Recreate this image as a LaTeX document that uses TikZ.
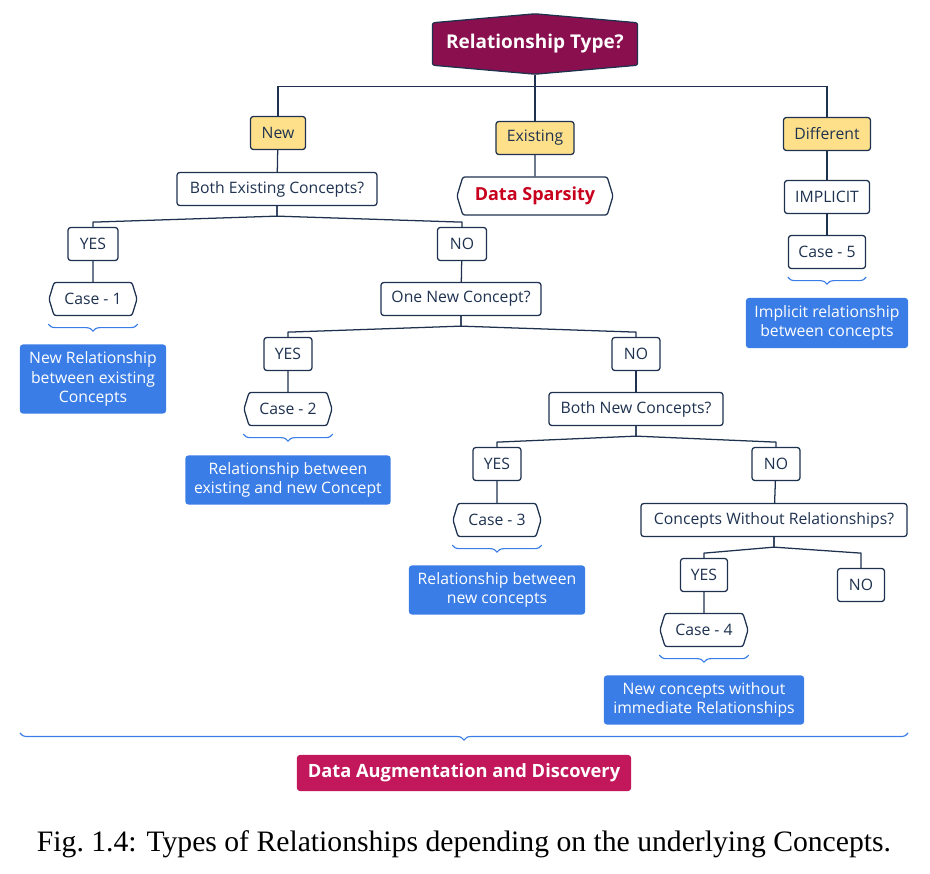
\documentclass[tikz,border=0pt]{standalone}
\usepackage{fontspec}
\setmainfont{Open Sans}
\newfontfamily\capfont{Liberation Serif}
\usepackage{xcolor}
\usetikzlibrary{positioning, shapes.symbols, decorations.pathreplacing, calc}

\definecolor{navy}{HTML}{1E3250}
\definecolor{plum}{HTML}{8A0F4E}
\definecolor{crimson}{HTML}{C2185B}
\definecolor{sand}{HTML}{FFE08A}
\definecolor{sky}{HTML}{3A7DE6}
\definecolor{alert}{HTML}{C8001E}

\newcommand{\branch}[2]{\draw[link] (#1.south) -- ++(0,10) -- ($(#1.south -| #2.north)+(0,16)$) -- (#2.north);}
\newcommand{\under}[1]{\draw[brc] ($(#1.west |- #1.south)+(0,8)$) -- ($(#1.east |- #1.south)+(0,8)$);}

\begin{document}
\begin{tikzpicture}[
    x=0.025cm, y=-0.025cm,
    box/.style={draw=navy, line width=0.9pt, rounded corners=2pt, fill=white, text=navy, font=\fontsize{11.2}{13}\selectfont, minimum height=0.825cm, inner sep=0pt},
    pick/.style={box, fill=sand},
    hexa/.style={box, rounded corners=1.5pt, signal, signal to=west and east, signal pointer angle=146},
    note/.style={fill=sky, rounded corners=2pt, text=white, font=\fontsize{11.2}{13.8}\selectfont, align=center, inner sep=0pt},
    link/.style={draw=navy, line width=0.9pt},
    brc/.style={draw=sky, line width=0.8pt, decorate, decoration={brace, mirror, amplitude=5pt}}
]
\useasboundingbox (0,0) rectangle (930,874);

% --- Root ---
\node[draw=navy, line width=0.9pt, fill=plum, text=white, font=\fontsize{13.5}{16}\bfseries, signal, signal to=north and south, signal pointer angle=170, rounded corners=1.5pt, minimum width=5.125cm, minimum height=1.45cm, inner sep=0pt] (root) at (535,44) {Relationship Type?};
\node[pick, minimum width=1.375cm] (new) at (278,133) {New};
\node[pick, minimum width=1.95cm] (exist) at (535,138) {Existing};
\node[pick, minimum width=2.175cm] (diff) at (827,134) {Different};
\draw[link] (root.south) -- ++(0,12) coordinate (rj);
\draw[link] (new.north) |- (rj) -| (diff.north);
\draw[link] (rj) -- (exist.north);

% --- Existing ---
\node[hexa, minimum width=3.9cm, minimum height=0.95cm, text=alert, font=\fontsize{12.8}{15}\bfseries] (sparse) at (535,196) {Data Sparsity};
\draw[link] (exist) -- (sparse);

% --- Different ---
\node[box, minimum width=2.125cm] (impl) at (827,197) {IMPLICIT};
\node[box, minimum width=1.925cm] (case5) at (827,252) {Case - 5};
\node[note, minimum width=4.05cm, minimum height=1.25cm] (res5) at (827,323) {Implicit relationship\\between concepts};
\draw[link] (diff) -- (impl);
\draw[link] (impl) -- (case5);
\under{case5}

% --- New ---
\node[box, minimum width=5cm] (both) at (277,189) {Both Existing Concepts?};
\draw[link] (new) -- (both);
\node[box, minimum width=1.25cm] (yes1) at (93,244) {YES};
\node[box, minimum width=1.225cm] (no1) at (462,244) {NO};
\branch{both}{yes1}
\branch{both}{no1}
\node[hexa, minimum width=2.2cm] (case1) at (93,299) {Case - 1};
\node[note, minimum width=3.65cm, minimum height=1.725cm] (res1) at (93,379) {New Relationship\\between existing\\Concepts};
\draw[link] (yes1) -- (case1);
\under{case1}

\node[box, minimum width=4cm] (one) at (461,299) {One New Concept?};
\draw[link] (no1) -- (one);
\node[box, minimum width=1.2cm] (yes2) at (288,354) {YES};
\node[box, minimum width=1.2cm] (no2) at (636,354) {NO};
\branch{one}{yes2}
\branch{one}{no2}
\node[hexa, minimum width=2.2cm] (case2) at (288,409) {Case - 2};
\node[note, minimum width=5.125cm, minimum height=1.225cm] (res2) at (288,480) {Relationship between\\existing and new Concept};
\draw[link] (yes2) -- (case2);
\under{case2}

\node[box, minimum width=4.35cm] (bothnew) at (636,409) {Both New Concepts?};
\draw[link] (no2) -- (bothnew);
\node[box, minimum width=1.2cm] (yes3) at (497,464) {YES};
\node[box, minimum width=1.2cm] (no3) at (776,464) {NO};
\branch{bothnew}{yes3}
\branch{bothnew}{no3}
\node[hexa, minimum width=2.2cm] (case3) at (497,520) {Case - 3};
\node[note, minimum width=4.4cm, minimum height=1.225cm] (res3) at (497,590) {Relationship between\\new concepts};
\draw[link] (yes3) -- (case3);
\under{case3}

\node[box, minimum width=6.65cm] (norel) at (774,520) {Concepts Without Relationships?};
\draw[link] (no3) -- (norel);
\node[box, minimum width=1.175cm] (yes4) at (704,575) {YES};
\node[box, minimum width=1.175cm] (no4) at (861,585) {NO};
\branch{norel}{yes4}
\branch{norel}{no4}
\node[hexa, minimum width=2.2cm] (case4) at (704,630) {Case - 4};
\node[note, minimum width=5cm, minimum height=1.225cm] (res4) at (704,700) {New concepts without\\immediate Relationships};
\draw[link] (yes4) -- (case4);
\under{case4}

% --- Outcome ---
\coordinate (bl) at (20,733);
\coordinate (br) at (908,733);
\draw[brc] (bl) -- (br);
\node[fill=crimson, rounded corners=2pt, text=white, font=\fontsize{13}{15}\bfseries, minimum width=8.35cm, minimum height=0.9cm, inner sep=0pt] (aug) at (464,773) {Data Augmentation and Discovery};
\node[font=\capfont\fontsize{21.1}{25}\selectfont] (cap) at (464,844) {Fig.~1.4: Types of Relationships depending on the underlying Concepts.};

\end{tikzpicture}
\end{document}
